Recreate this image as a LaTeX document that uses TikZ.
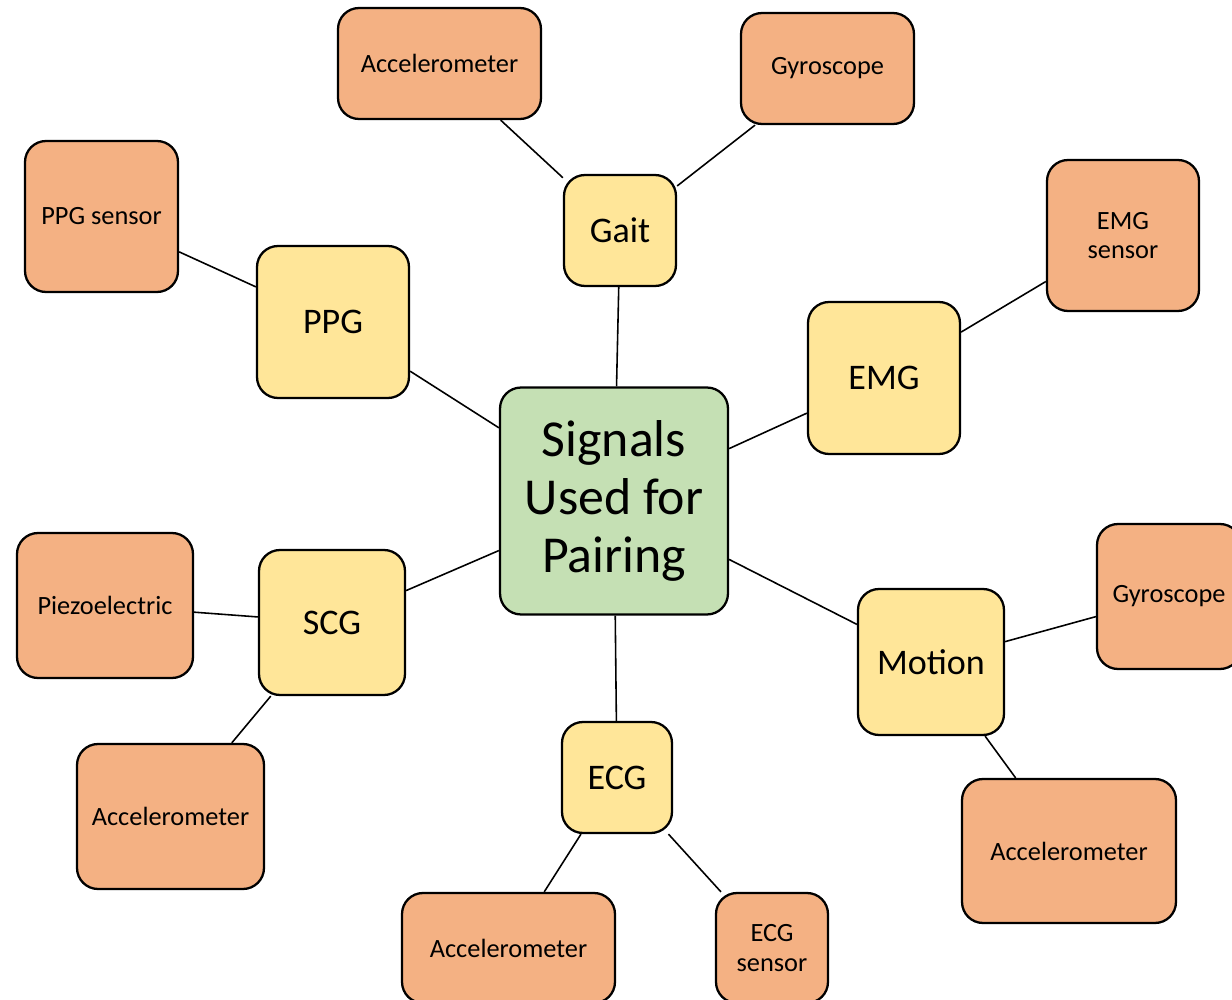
\documentclass[tikz,border=0pt]{standalone}
\usepackage{fontspec}
\setmainfont{Carlito}
\usepackage{tikz}
\usetikzlibrary{positioning}

\definecolor{hubgreen}{HTML}{C5E0B4}
\definecolor{sigyellow}{HTML}{FFE699}
\definecolor{sensororange}{HTML}{F4B183}

\begin{document}
\begin{tikzpicture}[x=0.02cm,y=-0.02cm]
            \tikzstyle{box} = [draw,line width=1.3pt,rounded corners=0.42cm,inner sep=0pt,align=center]
            \tikzstyle{hub} = [box,fill=hubgreen,font=\fontsize{29.5}{33}\selectfont]
            \tikzstyle{signal} = [box,fill=sigyellow,font=\fontsize{20.5}{24}\selectfont]
            \tikzstyle{sensor} = [box,fill=sensororange,font=\fontsize{15}{17}\selectfont]
            \tikzstyle{edge} = [line width=0.9pt]

            \useasboundingbox (0,0) rectangle (1232,1000);

            \node[hub,minimum width=4.56cm,minimum height=4.54cm] (S) at (614,501) {Signals\\Used for\\Pairing};

            \node[signal,minimum width=2.24cm,minimum height=2.22cm] (Gait) at (620,230.5) {Gait};
            \node[signal,minimum width=3.04cm,minimum height=3.04cm] (PPG) at (333,322) {PPG};
            \node[signal,minimum width=3.04cm,minimum height=3.04cm] (EMG) at (884,378) {EMG};
            \node[signal,minimum width=2.92cm,minimum height=2.9cm] (SCG) at (332,622.5) {SCG};
            \node[signal,minimum width=2.2cm,minimum height=2.22cm] (ECG) at (617,777.5) {ECG};
            \node[signal,minimum width=2.92cm,minimum height=2.92cm] (Motion) at (931,662) {Motion};

            \node[sensor,minimum width=4.06cm,minimum height=2.22cm] (GaitAcc) at (439.5,63.5) {Accelerometer};
            \node[sensor,minimum width=3.46cm,minimum height=2.22cm] (GaitGyro) at (827.5,68.5) {Gyroscope};
            \node[sensor,minimum width=3.06cm,minimum height=3.02cm] (PPGs) at (101.5,216.5) {PPG sensor};
            \node[sensor,minimum width=3.04cm,minimum height=3.02cm] (EMGs) at (1123,235.5) {EMG\\sensor};
            \node[sensor,minimum width=3.52cm,minimum height=2.9cm] (Piezo) at (105,605.5) {Piezoelectric};
            \node[sensor,minimum width=3.74cm,minimum height=2.9cm] (SCGAcc) at (170.5,816.5) {Accelerometer};
            \node[sensor,minimum width=4.26cm,minimum height=2.2cm] (ECGAcc) at (508.5,948) {Accelerometer};
            \node[sensor,minimum width=2.24cm,minimum height=2.2cm] (ECGs) at (772,948) {ECG\\sensor};
            \node[sensor,minimum width=2.88cm,minimum height=2.9cm] (MotGyro) at (1169,596.5) {Gyroscope};
            \node[sensor,minimum width=4.28cm,minimum height=2.88cm] (MotAcc) at (1069,851) {Accelerometer};

            % signals to the hub
            \draw[edge] (Gait) -- (S);
            \draw[edge] (PPG) -- (S);
            \draw[edge] (EMG) -- (S);
            \draw[edge] (SCG) -- (S);
            \draw[edge] (ECG) -- (S);
            \draw[edge] (Motion) -- (S);

            % sensors to signals
            \draw[edge] (GaitAcc) -- (Gait);
            \draw[edge] (GaitGyro) -- (Gait);
            \draw[edge] (PPGs) -- (PPG);
            \draw[edge] (EMGs) -- (EMG);
            \draw[edge] (Piezo) -- (SCG);
            \draw[edge] (SCGAcc) -- (SCG);
            \draw[edge] (ECGAcc) -- (ECG);
            \draw[edge] (ECGs) -- (ECG);
            \draw[edge] (MotGyro) -- (Motion);
            \draw[edge] (MotAcc) -- (Motion);
\end{tikzpicture}
\end{document}
